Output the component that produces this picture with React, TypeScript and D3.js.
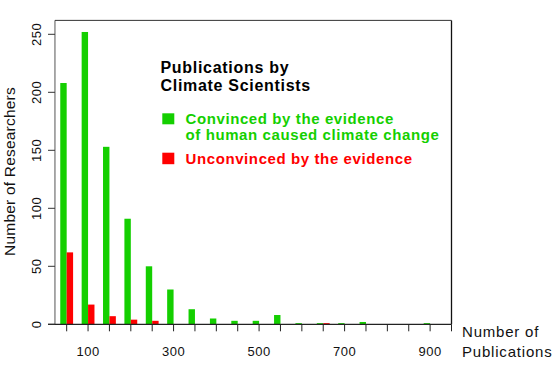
import React from "react";
import * as d3 from "d3";

const binCenters = [50, 100, 150, 200, 250, 300, 350, 400, 450, 500, 550, 600, 650, 700, 750, 800, 850, 900];
const convinced = [208, 252, 153, 91, 50, 30, 13, 5, 3, 3, 8, 1, 1, 1, 2, 0, 0, 1];
const unconvinced = [62, 17, 7, 4, 3, 0, 0, 0, 0, 0, 0, 0, 1, 0, 0, 0, 0, 0];
const xTickValues = d3.range(50, 951, 50);
const xTickLabels = [100, 300, 500, 700, 900];
const yTickValues = [0, 50, 100, 150, 200, 250];
const legendTitle = ["Publications by", "Climate Scientists"];
const legendConvinced = ["Convinced by the evidence", "of human caused climate change"];
const legendUnconvinced = ["Unconvinced by the evidence"];

const GREEN = "#14cf00";
const RED = "#ff0000";

export default function App() {
  const W = 555, H = 380;
  const x = d3.scaleLinear().domain([0, 950]).range([45.3, 451.5]);
  const y = d3.scaleLinear().domain([0, 250]).range([324.3, 34.3]);
  const barW = 15;
  const boxLeft = x(22.6), boxRight = x(950), boxTop = y(262), axisY = y(0);
  const font = "'Liberation Sans', Arial, Helvetica, sans-serif";

  return (
    <svg width={W} height={H} style={{ position: "absolute", left: 0, top: 0, background: "#fff" }} fontFamily={font}>
      {/* bars */}
      {binCenters.map((c, i) => (
        <g key={c}>
          {convinced[i] > 0 && (
            <rect x={x(c - barW)} y={y(convinced[i])} width={x(c) - x(c - barW)} height={axisY - y(convinced[i])} fill={GREEN} />
          )}
          {unconvinced[i] > 0 && (
            <rect x={x(c)} y={y(unconvinced[i])} width={x(c + barW) - x(c)} height={axisY - y(unconvinced[i])} fill={RED} />
          )}
        </g>
      ))}
      {/* box */}
      <line x1={boxLeft} x2={boxLeft} y1={boxTop} y2={axisY} stroke="#555" strokeWidth={1} />
      <line x1={boxLeft} x2={boxRight} y1={boxTop} y2={boxTop} stroke="#333" strokeWidth={1} />
      <line x1={boxRight} x2={boxRight} y1={boxTop} y2={axisY} stroke="#111" strokeWidth={1.3} />
      <line x1={48} x2={boxRight} y1={axisY} y2={axisY} stroke="#222" strokeWidth={1.2} />
      {/* x ticks */}
      {xTickValues.map((v) => (
        <line key={v} x1={x(v)} x2={x(v)} y1={axisY} y2={axisY + 7} stroke="#222" strokeWidth={1} />
      ))}
      {xTickLabels.map((v) => (
        <text key={v} x={x(v)} y={356} textAnchor="middle" fontSize={13} letterSpacing={0.5} fill="#111">{v}</text>
      ))}
      {/* y ticks */}
      {yTickValues.map((v) => (
        <g key={v}>
          <line x1={48} x2={boxLeft} y1={y(v)} y2={y(v)} stroke="#333" strokeWidth={1} />
          <text transform={`translate(41,${y(v)}) rotate(-90)`} textAnchor="middle" fontSize={13} letterSpacing={0.5} fill="#111">{v}</text>
        </g>
      ))}
      {/* axis titles */}
      <text transform="translate(15,171.5) rotate(-90)" textAnchor="middle" fontSize={15.5} letterSpacing={0.2} fill="#111">Number of Researchers</text>
      <text x={462} y={336.5} fontSize={15} letterSpacing={0.8} fill="#111">Number of</text>
      <text x={462} y={356.5} fontSize={15} letterSpacing={0.8} fill="#111">Publications</text>
      {/* legend */}
      {legendTitle.map((t, i) => (
        <text key={t} x={160.5} y={73.3 + i * 17.4} fontSize={16} fontWeight="bold" letterSpacing={0.7} fill="#000">{t}</text>
      ))}
      <rect x={162.3} y={113.3} width={12} height={11} fill={GREEN} />
      {legendConvinced.map((t, i) => (
        <text key={t} x={185.5} y={124.3 + i * 16} fontSize={15} fontWeight="bold" letterSpacing={0.6} fill={GREEN}>{t}</text>
      ))}
      <rect x={162.3} y={152.7} width={12} height={11.5} fill={RED} />
      {legendUnconvinced.map((t) => (
        <text key={t} x={185.5} y={163.6} fontSize={15} fontWeight="bold" letterSpacing={0.6} fill={RED}>{t}</text>
      ))}
    </svg>
  );
}
